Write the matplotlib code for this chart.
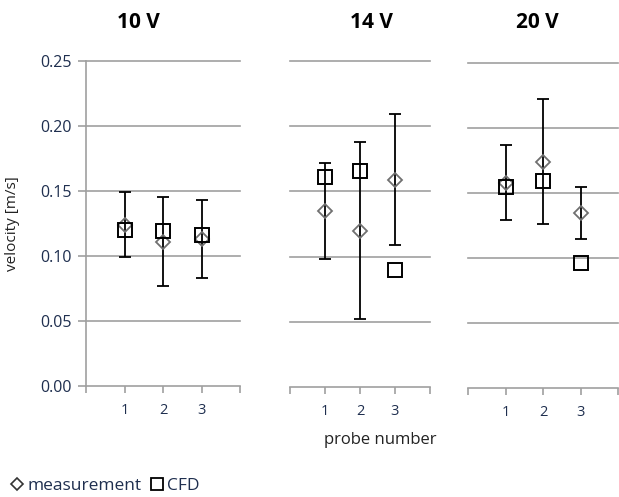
import matplotlib
matplotlib.use("Agg")
import matplotlib.pyplot as plt
from matplotlib.lines import Line2D

plt.rcParams['font.family'] = ['Open Sans', 'DejaVu Sans']

probes = [1, 2, 3]
panel_titles = ["10 V", "14 V", "20 V"]
meas = [[0.124, 0.111, 0.113],
        [0.135, 0.120, 0.159],
        [0.158, 0.174, 0.135]]
meas_err = [[0.025, 0.034, 0.030],
            [0.037, 0.068, 0.050],
            [0.029, 0.048, 0.020]]
cfd = [[0.120, 0.119, 0.116],
       [0.161, 0.166, 0.090],
       [0.155, 0.159, 0.096]]
yticks = [0.00, 0.05, 0.10, 0.15, 0.20, 0.25]

W, H = 619, 497
fig = plt.figure(figsize=(W / 100, H / 100), dpi=100)

# axes boxes in pixels: left, right, top, bottom
boxes = [(86, 240, 61, 386), (290, 430, 61, 387), (468, 618, 63, 388)]
title_x = [138, 372, 537]
grid_c = '#a0a0a0'
txt_c = '#1f2f4f'

for i, (l, r, t, b) in enumerate(boxes):
    ax = fig.add_axes([l / W, 1 - b / H, (r - l) / W, (b - t) / H])
    ax.set_xlim(0, 4)
    ax.set_ylim(0, 0.25)
    for s in ['top', 'right']:
        ax.spines[s].set_visible(False)
    ax.spines['bottom'].set_color(grid_c)
    ax.spines['bottom'].set_linewidth(1.2)
    ax.set_xticks([0, 1, 2, 3, 4])
    ax.set_xticklabels(['', '1', '2', '3', ''])
    ax.tick_params(axis='x', direction='out', length=5, width=1.2, color=grid_c,
                   labelsize=10.5, labelcolor=txt_c, pad=7)
    ax.set_yticks(yticks)
    for v in yticks[1:]:
        ax.axhline(v, color=grid_c, lw=1.2, zorder=0, clip_on=False)
    if i == 0:
        ax.spines['left'].set_color(grid_c)
        ax.spines['left'].set_linewidth(1.2)
        ax.set_yticklabels([f"{v:.2f}" for v in yticks])
        ax.tick_params(axis='y', direction='out', length=6, width=1.2, color=grid_c,
                       labelsize=11.5, labelcolor=txt_c, pad=4)
        ax.set_ylabel("velocity [m/s]", fontsize=11, color='#222222')
        ax.yaxis.set_label_coords(-66 / (r - l), 0.5)
    else:
        ax.spines['left'].set_visible(False)
        ax.tick_params(axis='y', left=False, labelleft=False)

    ax.errorbar(probes, meas[i], yerr=meas_err[i], fmt='none', ecolor='black',
                elinewidth=1.3, capsize=4, capthick=1.3, zorder=3)
    ax.plot(probes, meas[i], linestyle='none', marker='D', markersize=7.5,
            markerfacecolor='none', markeredgecolor='#707070', markeredgewidth=1.3, zorder=4)
    ax.plot(probes, cfd[i], linestyle='none', marker='s', markersize=10.5,
            markerfacecolor='none', markeredgecolor='black', markeredgewidth=1.4, zorder=5)

    fig.text(title_x[i] / W, 1 - 23 / H, panel_titles[i], ha='center', va='center',
             fontsize=15, fontweight='bold', color='black')

fig.text(380 / W, 1 - 440 / H, "probe number", ha='center', va='center',
         fontsize=12, color='#222222')

handles = [Line2D([], [], linestyle='none', marker='D', markersize=6.5,
                  markerfacecolor='none', markeredgecolor='#333333', markeredgewidth=1.2),
           Line2D([], [], linestyle='none', marker='s', markersize=8,
                  markerfacecolor='none', markeredgecolor='black', markeredgewidth=1.3)]
fig.legend(handles, ["measurement", "CFD"], loc='center left',
           bbox_to_anchor=(8 / W, 1 - 486 / H), ncol=2, frameon=False,
           handletextpad=0.1, columnspacing=0.4, handlelength=1.0, fontsize=12.5,
           labelcolor=txt_c, borderpad=0, borderaxespad=0)

fig.savefig("out.png", dpi=100)
